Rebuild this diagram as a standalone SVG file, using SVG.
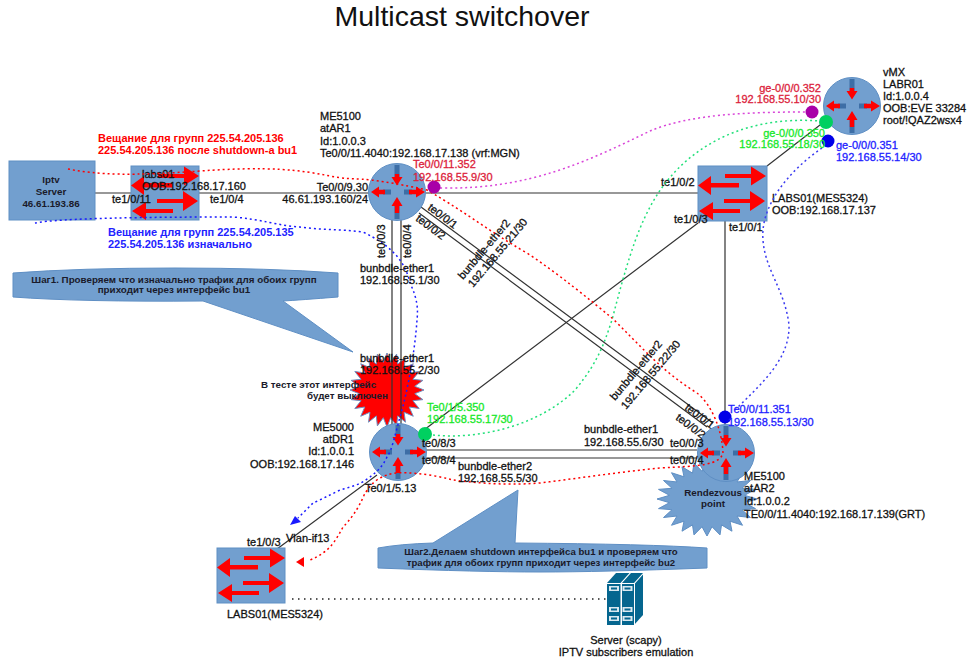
<svg xmlns="http://www.w3.org/2000/svg" xmlns:xlink="http://www.w3.org/1999/xlink" width="972" height="664" viewBox="0 0 972 664">
<style>
text{font-family:"Liberation Sans",Arial,sans-serif;font-size:11px;fill:#111;stroke:#111;stroke-width:.3}
.b{font-size:9.8px;font-weight:bold;stroke:none;fill:#1a1a2a}
.n{font-size:9.600px}
.c{text-anchor:middle}
.e{text-anchor:end}
.red{fill:#dc1e3c;stroke:#dc1e3c}
.grn{fill:#17e82a;stroke:#17e82a}
.blu{fill:#2222ff;stroke:#2222ff}
.shape{fill:#729fcf;stroke:#5f8fc4;stroke-width:1}
.link{fill:none;stroke:#333;stroke-width:1.2}
.flow{fill:none;stroke-width:1.5;stroke-dasharray:2 3}
.a{fill:#f00;stroke:none}
.d{fill:#3d6ea6;stroke:none}
</style>
<defs>
<g id="router">
<circle r="28.5" class="shape"/>
<rect class="d" x="-2.5" y="-27" width="5" height="13"/><rect class="d" x="-2.5" y="14" width="5" height="13"/>
<rect class="d" x="-14" y="-2.5" width="8" height="5"/><rect class="d" x="7" y="-2.5" width="8" height="5"/>
<path class="a" d="M-2.2-18H2.2V-15H5.5L0-6.5-5.5-15H-2.2Z"/>
<path class="a" d="M-2.2 21H2.2V14H5.5L0 5-5.5 14H-2.2Z"/>
<path class="a" d="M-12-2.2V2.2H-18V5.5L-26 0-18-5.5V-2.2Z"/>
<path class="a" d="M12-2.2V2.2H19V5.5L28 0 19-5.5V-2.2Z"/>
</g>
<g id="switch">
<path class="a" d="M27 8H53V.5L68 10 53 19.500V12H27Z"/>
<path class="a" d="M41 17H13V10L0 19.500 13 29V21.500H41Z"/>
<path class="a" d="M26 33H52V25L67 35 52 45V37H26Z"/>
<path class="a" d="M42 43H15V36L1 45 15 54V47H42Z"/>
</g>
<polygon id="star" points="100,0 75,10 97,26 70,29 87,50 60,46 71,71 46,60 50,87 29,70 26,97 10,75 0,100 -10,75 -26,97 -29,70 -50,87 -46,60 -71,71 -60,46 -87,50 -70,29 -97,26 -75,10 -100,0 -75,-10 -97,-26 -70,-29 -87,-50 -60,-46 -71,-71 -46,-60 -50,-87 -29,-70 -26,-97 -10,-75 0,-100 10,-75 26,-97 29,-70 50,-87 46,-60 71,-71 60,-46 87,-50 70,-29 97,-26 75,-10" vector-effect="non-scaling-stroke"/>
</defs>
<rect width="972" height="664" fill="#fff"/>
<text x="462" y="26" class="c" style="font-size:28.500px;stroke:none;fill:#111">Multicast switchover</text>

<g id="callout1">
<path class="shape" d="M13 273Q80 268 175 268T338 273V297Q300 300 283 301L353 352 203 301Q80 302 13 297Z"/>
<text x="174" y="283" class="b c">Шаг1. Проверяем что изначально трафик для обоих групп</text>
<text x="174" y="293" class="b c">приходит через интерфейс bu1</text>
</g>
<g id="callout2">
<path class="shape" d="M378 548Q400 544 433 543L518 490 515 543Q650 544 707 548V568Q600 572 540 572T378 568Z"/>
<text x="541" y="555" class="b c n">Шаг2.Делаем shutdown интерфейса bu1 и проверяем что</text>
<text x="541" y="566" class="b c n">трафик для обоих групп приходит через интерфейс bu2</text>
</g>
<g id="star-off">
<use xlink:href="#star" href="#star" transform="translate(387,390) scale(.37)" fill="#f00" stroke="#6f8fc0"/>
</g>
<g id="star-rp">
<use xlink:href="#star" href="#star" transform="translate(707,499) scale(.5,.37)" fill="#729fcf" stroke="#5f8fc4"/>
</g>

<g id="connectors">
<path class="link" d="M95 193H131M199 193H370M425 193H698M725 221V425M767 166L820 125"/>
<path class="link" d="M392 220V425M401 220V425"/>
<path class="link" d="M421 207L713 423M419 213L707 427"/>
<path class="link" d="M420 433L698 223M377 475L277 549"/>
<path class="link" d="M425 450H697M425 458H697"/>
<path d="M292 599H607" fill="none" stroke="#222" stroke-width="1.600" stroke-dasharray="1.500 4.500"/>
</g>

<g id="iptv-server">
<rect class="shape" x="9" y="161" width="86" height="59"/>
<text x="51" y="183" class="b c">Iptv</text><text x="51" y="195" class="b c">Server</text><text x="51" y="207" class="b c">46.61.193.86</text>
</g>
<g id="labs01-a">
<rect class="shape" x="131" y="166" width="68" height="54"/>
<use xlink:href="#switch" href="#switch" transform="translate(131,166)"/>
<text x="142" y="178">labs01</text><text x="142" y="190">OOB:192.168.17.160</text>
<text x="112" y="203">te1/0/11</text><text x="210" y="203">te1/0/4</text>
</g>
<g id="labs01-b">
<rect class="shape" x="698" y="166" width="69" height="55"/>
<use xlink:href="#switch" href="#switch" transform="translate(698,166)"/>
<text x="772" y="202">LABS01(MES5324)</text><text x="772" y="214">OOB:192.168.17.137</text>
<text x="661" y="186">te1/0/2</text><text x="674" y="223">te1/0/3</text><text x="729" y="231">te1/0/1</text>
</g>
<g id="labs01-c">
<rect class="shape" x="217" y="548" width="68" height="55"/>
<use xlink:href="#switch" href="#switch" transform="translate(217,548)"/>
<text x="247" y="546">te1/0/3</text><text x="286" y="542">Vlan-if13</text>
<text x="227" y="618">LABS01(MES5324)</text>
</g>
<g id="atAR1">
<use xlink:href="#router" href="#router" transform="translate(397,192)"/>
<text x="320" y="120">ME5100</text><text x="320" y="132">atAR1</text><text x="320" y="144.500">Id:1.0.0.3</text><text x="320" y="157">Te0/0/11.4040:192.168.17.138 (vrf:MGN)</text>
<text x="368" y="191" class="e">Te0/0/9.30</text><text x="368" y="203" class="e">46.61.193.160/24</text>
</g>
<g id="vMX">
<use xlink:href="#router" href="#router" transform="translate(852,106)"/>
<text x="883" y="76">vMX</text><text x="883" y="88">LABR01</text><text x="883" y="100">Id:1.0.0.4</text><text x="883" y="112">OOB:EVE 33284</text><text x="883" y="124">root/!QAZ2wsx4</text>
</g>
<g id="atDR1">
<use xlink:href="#router" href="#router" transform="translate(398,452)"/>
<text x="354" y="431" class="e">ME5000</text><text x="354" y="443" class="e">atDR1</text><text x="354" y="455" class="e">Id:1.0.0.1</text><text x="354" y="468" class="e">OOB:192.168.17.146</text>
</g>
<g id="atAR2">
<use xlink:href="#router" href="#router" transform="translate(726,453)"/>
<text x="744" y="480">ME5100</text><text x="744" y="492">atAR2</text><text x="744" y="505">Id:1.0.0.2</text><text x="744" y="518">TE0/0/11.4040:192.168.17.139(GRT)</text>
</g>
<g id="server-scapy">
<path fill="#05668f" d="M607 583L616 573H643V615L634 625H607Z"/>
<path fill="#fff" d="M620.500 583L629.500 573H631L622 583V625H620.500ZM634 583L643 573V574.500L635 583.500V625H634Z"/>
<path fill="#fff" d="M607 583H634V584H607Z"/>
<path fill="#dbe9f0" d="M609 586H619V591H609ZM622.500 586H632.500V591H622.500ZM609 607H619V612H609ZM622.500 607H632.500V612H622.500ZM609 616H619V621H609ZM622.500 616H632.500V621H622.500Z"/>
<path fill="#05668f" d="M611 587.500H617V589.500H611ZM624.500 587.500H630.500V589.500H624.500ZM611 608.500H617V610.500H611ZM624.500 608.500H630.500V610.500H624.500ZM611 617.500H617V619.500H611ZM624.500 617.500H630.500V619.500H624.500Z"/>
<text x="626" y="644" class="c">Server (scapy)</text><text x="626" y="656" class="c">IPTV subscribers emulation</text>
</g>

<g id="flows">
<path class="flow" stroke="#d946d9" d="M440 188C530 190 590 160 650 131C690 114 750 112 806 112"/>
<path class="flow" stroke="#22e07a" d="M433 435C480 440 540 425 575 390C600 360 605 340 612 320C625 270 635 235 650 207C680 150 740 115 820 121"/>
<path class="flow" stroke="#3c3cf0" d="M822 148C790 170 760 205 763 240C765 270 785 290 789 325C790 360 760 385 735 410"/>
<path class="flow" stroke="#f00" d="M68 169C100 175 130 176 200 171S300 170 330 176S353 174 427 190C470 215 490 232 527 253C560 275 590 300 612 318C640 345 660 370 697 393C712 405 722 430 723 453C720 465 700 466 660 468C620 472 580 478 540 483C500 486 470 482 453 480C430 474 400 470 387 475C372 480 368 490 365 493C358 510 350 520 343 527C336 540 330 552 310 560"/>
<path d="M296 562L304 557V567Z" fill="#f00"/>
<path class="flow" stroke="#1a1aff" stroke-width="1.700" d="M35 223C60 218 150 217 233 217C260 219 280 226 300 227C320 230 340 229 363 232C390 245 405 260 410 283C418 300 418 310 417 320C415 350 408 390 400 417C395 435 392 450 387 457C382 468 375 473 370 477C360 485 350 487 340 490C330 495 320 500 313 503L298 518"/>
<path d="M290 525L295 516 301 522Z" fill="#1a1aff"/>
<circle cx="434" cy="187" r="6.500" fill="#a800a8"/>
<circle cx="812" cy="112" r="6.500" fill="#a800a8"/>
<circle cx="826" cy="122" r="7" fill="#00d060"/>
<circle cx="828" cy="141" r="6.500" fill="#0000e8"/>
<circle cx="425" cy="434" r="7" fill="#00d060"/>
<circle cx="725" cy="417" r="6.500" fill="#0000e8"/>
</g>

<g id="labels">
<text x="98" y="142" class="red" style="fill:#f00;stroke:#f00;font-weight:bold;stroke-width:0">Вещание для групп 225.54.205.136</text>
<text x="98" y="154" class="red" style="fill:#f00;stroke:#f00;font-weight:bold;stroke-width:0">225.54.205.136 после shutdown-а bu1</text>
<text x="108" y="236" class="blu" style="font-weight:bold;stroke-width:0">Вещание для групп 225.54.205.135</text>
<text x="108" y="248" class="blu" style="font-weight:bold;stroke-width:0">225.54.205.136 изначально</text>
<text x="413" y="168" class="red">Te0/0/11.352</text><text x="413" y="181" class="red">192.168.55.9/30</text>
<text x="821" y="92" class="red e">ge-0/0/0.352</text><text x="821" y="103" class="red e">192.168.55.10/30</text>
<text x="825" y="137" class="grn e">ge-0/0/0.350</text><text x="825" y="148" class="grn e">192.168.55.18/30</text>
<text x="836" y="149" class="blu">ge-0/0/0.351</text><text x="836" y="161" class="blu">192.168.55.14/30</text>
<text x="427" y="411" class="grn">Te0/1/5.350</text><text x="427" y="423" class="grn">192.168.55.17/30</text>
<text x="728" y="413" class="blu">Te0/0/11.351</text><text x="728" y="426" class="blu">192.168.55.13/30</text>
<text transform="translate(385,258) rotate(-90)">te0/0/3</text>
<text transform="translate(411,258) rotate(-90)">te0/0/4</text>
<text x="360" y="272">bunbdle-ether1</text><text x="360" y="284">192.168.55.1/30</text>
<text transform="translate(427,209) rotate(37)">te0/0/1</text>
<text transform="translate(415,220) rotate(37)">te0/0/2</text>
<text transform="translate(463,280) rotate(-50)">bunbdle-ether2</text>
<text transform="translate(473,288) rotate(-50)">192.168.55.21/30</text>
<text x="360" y="362">bunbdle-ether1</text><text x="360" y="374">192.168.55.2/30</text>
<text x="261" y="388" class="b">В тесте этот интерфейс</text><text x="307" y="399" class="b">будет выключен</text>
<text x="422" y="447">te0/8/3</text><text x="422" y="464">te0/8/4</text>
<text x="458" y="470">bunbdle-ether2</text><text x="458" y="482">192.168.55.5/30</text>
<text x="365" y="492">Te0/1/5.13</text>
<text x="584" y="433">bunbdle-ether1</text><text x="584" y="446">192.168.55.6/30</text>
<text x="670" y="447">te0/0/3</text><text x="670" y="464">te0/0/4</text>
<text transform="translate(684,409) rotate(37)">te0/0/1</text>
<text transform="translate(675,419) rotate(37)">te0/0/2</text>
<text transform="translate(615,401) rotate(-50)">bunbdle-ether2</text>
<text transform="translate(626,410) rotate(-50)">192.168.55.22/30</text>
<text x="713" y="496" class="b c">Rendezvous</text><text x="713" y="507" class="b c">point</text>
</g>
</svg>
